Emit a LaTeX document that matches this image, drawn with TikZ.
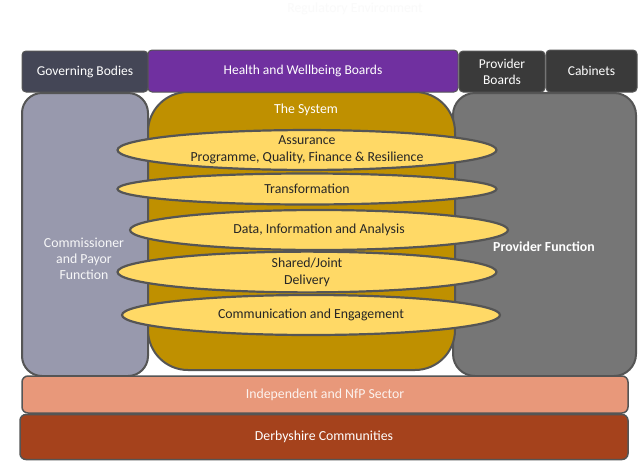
\documentclass[tikz,border=0pt]{standalone}
\usepackage{fontspec}
\setmainfont{Carlito}
\usetikzlibrary{shapes.geometric}
\definecolor{govfill}{RGB}{68,70,86}
\definecolor{hwbfill}{RGB}{112,48,160}
\definecolor{pbfill}{RGB}{58,58,58}
\definecolor{commfill}{RGB}{152,153,173}
\definecolor{sysfill}{RGB}{191,144,0}
\definecolor{provfill}{RGB}{118,118,118}
\definecolor{ellfill}{RGB}{255,217,102}
\definecolor{indfill}{RGB}{232,152,122}
\definecolor{derbfill}{RGB}{165,66,28}
\definecolor{edge}{RGB}{85,85,85}
\tikzset{
  topbox/.style={draw=edge, line width=1pt, rounded corners=4pt, text=white, font=\fontsize{13.5}{16}\selectfont, align=center, inner sep=0pt},
  colbox/.style={draw=edge, line width=2pt, inner sep=0pt},
  layer/.style={ellipse, draw=edge, line width=2.2pt, fill=ellfill, inner sep=0pt, align=center, font=\fontsize{13.8}{17}\selectfont, text=black!85},
  bandbox/.style={draw=edge, line width=1.5pt, rounded corners=6pt, inner sep=0pt, font=\fontsize{13.8}{16}\selectfont},
  wtext/.style={text=white, font=\fontsize{13.8}{16}\selectfont, align=center, inner sep=0pt}
}
\begin{document}
\begin{tikzpicture}[x=1pt,y=-1pt]
\useasboundingbox[fill=white] (0,0) rectangle (639,461);
\node[text=black!2, font=\fontsize{13.8}{16}\selectfont] (reg) at (355,9) {Regulatory Environment};
% columns
\node[colbox, fill=commfill, rounded corners=20pt, minimum width=126pt, minimum height=283pt] (comm) at (85,234.5) {};
\node[colbox, fill=provfill, rounded corners=22pt, minimum width=183pt, minimum height=283pt] (prov) at (544.5,234.5) {};
\node[colbox, fill=sysfill, rounded corners=40pt, minimum width=307pt, minimum height=278pt] (sys) at (301.5,231) {};
\node[wtext, text=white!92!commfill] (commt) at (84,259) {Commissioner\\and Payor\\Function};
\node[wtext, font=\bfseries\fontsize{13.8}{16}\selectfont] (provt) at (544,247) {Provider Function};
\node[wtext] (syst) at (306,110) {The System};
% top boxes
\node[topbox, fill=govfill, minimum width=126pt, minimum height=41pt] (gov) at (85,71.5) {Governing Bodies};
\node[topbox, fill=hwbfill, minimum width=310pt, minimum height=42pt] (hwb) at (303,71) {Health and Wellbeing Boards};
\node[topbox, fill=pbfill, minimum width=86pt, minimum height=41pt] (pb) at (502,71.5) {Provider\\Boards};
\node[topbox, fill=pbfill, minimum width=91pt, minimum height=42pt] (cab) at (591.5,71) {Cabinets};
% layers
\node[layer, minimum width=379pt, minimum height=38pt] (assur) at (307,150) {Assurance\\Programme, Quality, Finance \& Resilience};
\node[layer, minimum width=379pt, minimum height=31pt] (trans) at (307,189) {Transformation};
\node[layer, minimum width=378pt, minimum height=40pt] (data) at (319,230) {Data, Information and Analysis};
\node[layer, minimum width=379pt, minimum height=38pt] (shared) at (307,272) {Shared/Joint\\Delivery};
\node[layer, minimum width=378pt, minimum height=40pt] (comms) at (311,315) {Communication and Engagement};
% bands
\node[bandbox, fill=indfill, text=white!88!indfill, minimum width=606pt, minimum height=37pt] (ind) at (325,394.5) {Independent and NfP Sector};
\node[bandbox, fill=derbfill, text=white, minimum width=608pt, minimum height=45pt] (derb) at (324,437) {Derbyshire Communities};
\end{tikzpicture}
\end{document}
